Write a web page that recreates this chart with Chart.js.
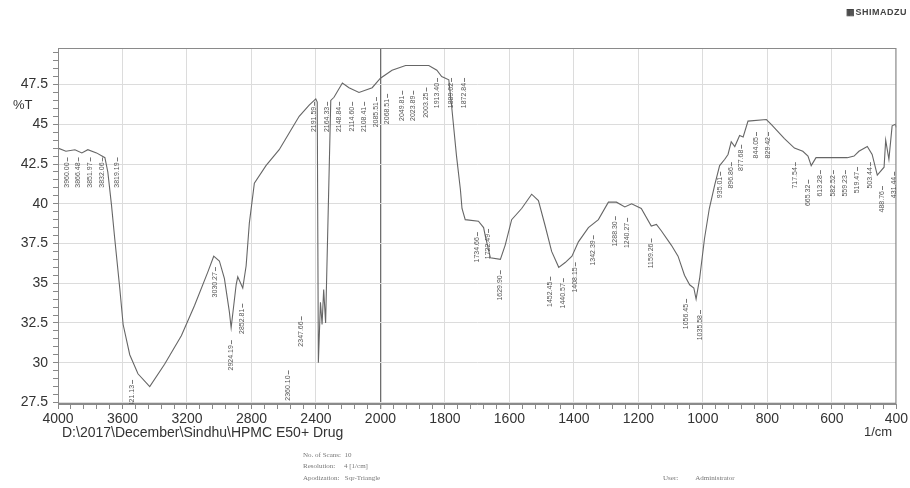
<!DOCTYPE html>
<html>
<head>
<meta charset="utf-8">
<script src="https://cdn.jsdelivr.net/npm/chart.js@4.4.1/dist/chart.umd.min.js"></script>
<style>
  body { margin: 0; background: #fff; font-family: "Liberation Sans", Arial, sans-serif; }
  #wrap { position: relative; width: 910px; height: 488px; overflow: hidden; }
  #ir { position: absolute; left: 0; top: 0; }
  .txt { position: absolute; white-space: pre; color: #333; }
  .info { position: absolute; white-space: pre; color: #777; font-family: "Liberation Serif", serif; font-size: 7px; }
</style>
</head>
<body>
<div id="wrap">
  <canvas id="ir" width="910" height="488"></canvas>
  <div class="txt" style="left:846px;top:7px;font-size:9px;font-weight:bold;letter-spacing:0.5px;color:#444">&#9638;SHIMADZU</div>
  <div class="txt" style="left:62px;top:424px;font-size:14px">D:\2017\December\Sindhu\HPMC E50+ Drug</div>
  <div class="txt" style="left:864px;top:424px;font-size:13px">1/cm</div>
  <div class="info" style="left:303px;top:451px">No. of Scans:  10</div>
  <div class="info" style="left:303px;top:462px">Resolution:     4 [1/cm]</div>
  <div class="info" style="left:303px;top:474px">Apodization:   Sqr-Triangle</div>
  <div class="info" style="left:663px;top:474px">User:          Administrator</div>
</div>
<script>
// spectrum (wavenumber in 1/cm, transmittance in %T)
const spectrumWn = [
  4000, 3951, 3895, 3852, 3815, 3761, 3709, 3691, 3668, 3648,
  3617, 3596, 3555, 3504, 3431, 3339, 3235, 3153, 3071, 3034,
  2999, 2968, 2937, 2926, 2895, 2885, 2854, 2833, 2813, 2782,
  2710, 2628, 2566, 2504, 2442, 2401, 2392, 2385, 2372, 2362,
  2352, 2340, 2308, 2288, 2236, 2195, 2133, 2051, 2000, 1964,
  1922, 1850, 1825, 1810, 1788, 1779, 1764, 1752, 1747, 1737,
  1696, 1680, 1675, 1659, 1628, 1613, 1593, 1562, 1531, 1510,
  1489, 1469, 1447, 1427, 1406, 1386, 1355, 1324, 1293, 1268,
  1242, 1221, 1191, 1160, 1144, 1129, 1098, 1077, 1057, 1041,
  1028, 1021, 1010, 995, 980, 963, 948, 932, 922, 912,
  901, 886, 875, 860, 803, 788, 747, 716, 690, 674,
  664, 649, 634, 552, 531, 516, 490, 475, 459, 438,
  433, 423, 413, 403, 400
];
const spectrumT = [
  43.5, 43.3, 43.4, 43.2, 43.4, 43.2, 42.9, 42.0, 39.9, 37.8,
  34.7, 32.4, 30.5, 29.3, 28.5, 29.9, 31.7, 33.6, 35.7, 36.7,
  36.4, 35.3, 33.2, 32.2, 34.9, 35.4, 34.7, 36.1, 38.8, 41.3,
  42.4, 43.4, 44.45, 45.5, 46.2, 46.6, 46.4, 30.0, 33.8, 32.4,
  34.6, 32.5, 46.5, 46.7, 47.6, 47.3, 47.0, 47.3, 47.9, 48.4,
  48.7, 48.7, 48.4, 48.0, 47.8, 46.1, 43.0, 40.9, 39.7, 39.0,
  38.9, 38.5, 38.0, 36.6, 36.5, 37.4, 39.0, 39.7, 40.6, 40.2,
  38.6, 37.0, 36.0, 36.3, 36.7, 37.6, 38.5, 39.0, 40.1, 40.1,
  39.8, 40.0, 39.7, 38.6, 38.7, 38.3, 37.4, 36.7, 35.5, 34.9,
  34.7, 34.0, 35.3, 37.8, 39.7, 41.2, 42.4, 42.8, 43.1, 43.9,
  43.6, 44.3, 44.2, 45.2, 45.3, 45.0, 44.1, 43.5, 43.3, 43.0,
  42.4, 42.9, 42.9, 42.9, 43.0, 43.3, 43.6, 43.1, 41.8, 42.3,
  44.0, 42.8, 44.9, 45.0, 44.8
];

const xTickLabels = [4000, 3600, 3200, 2800, 2400, 2000, 1800, 1600, 1400, 1200, 1000, 800, 600, 400];
const yTickLabels = [27.5, 30, 32.5, 35, 37.5, 40, 42.5, 45, 47.5];

// peak picks: text, and where the label sits (wavenumber, %T at its top end)
const peakText = [
  '3960.00', '3866.48', '3851.97', '3832.06', '3819.19', '3421.13',
  '3030.27', '2924.19', '2852.81', '2347.66', '2360.10',
  '2191.59', '2164.33', '2148.84', '2114.60', '2108.41', '2085.51', '2068.51',
  '2049.81', '2023.89', '2003.25', '1913.40', '1889.02', '1872.84',
  '1734.66', '1722.49', '1629.90', '1452.45', '1440.57', '1408.15', '1342.39',
  '1288.30', '1240.27', '1159.26', '1056.45', '1035.58',
  '935.01', '896.86', '877.68', '844.05', '829.42', '717.54', '665.32',
  '613.28', '582.52', '559.23', '519.47', '503.44', '488.76', '431.44'
];
const peakWn = [
  3946, 3876, 3802, 3728, 3635, 3543,
  3029, 2924, 2856, 2492, 2572,
  2411, 2330, 2257, 2176, 2102, 2028, 1980,
  1934, 1900, 1860, 1826, 1782, 1742,
  1702, 1665, 1628, 1473, 1433, 1396, 1340,
  1272, 1235, 1161, 1053, 1009,
  947, 913, 882, 835, 798, 715, 675,
  638, 597, 560, 523, 483, 443, 406
];
const peakTop = [
  42.6, 42.6, 42.6, 42.6, 42.6, 28.6,
  35.7, 31.1, 33.4, 32.6, 29.2,
  46.1, 46.1, 46.1, 46.1, 46.1, 46.4, 46.6,
  46.8, 46.8, 47.0, 47.6, 47.6, 47.6,
  37.9, 38.1, 35.5, 35.1, 35.0, 36.0, 37.7,
  38.9, 38.8, 37.5, 33.7, 33.0,
  41.7, 42.3, 43.4, 44.2, 44.2, 42.3, 41.2,
  41.8, 41.8, 41.8, 42.0, 42.3, 40.8, 41.7
];

// the instrument plots 4000-2000 at half the scale of 2000-400
function toAxis(wn) {
  return wn >= 2000 ? (4000 - wn) / 400 : 5 + (2000 - wn) / 200;
}

const points = spectrumWn.map((w, i) => ({ x: toAxis(w), y: spectrumT[i] }));

const frameAndText = {
  id: 'frameAndText',
  afterDatasetsDraw(chart) {
    const { ctx, chartArea: a, scales } = chart;
    ctx.save();
    ctx.strokeStyle = '#8a8a8a';
    ctx.lineWidth = 1;
    ctx.strokeRect(a.left + 0.5, a.top + 0.5, a.right - a.left - 1, a.bottom - a.top - 1);

    // peak labels
    ctx.beginPath();
    ctx.rect(a.left, a.top, a.right - a.left, a.bottom - a.top);
    ctx.clip();
    ctx.fillStyle = '#555';
    ctx.strokeStyle = '#777';
    ctx.font = '7px "Liberation Sans", Arial, sans-serif';
    peakText.forEach((t, i) => {
      const x = Math.round(scales.x.getPixelForValue(toAxis(peakWn[i]))) + 0.5;
      const y = scales.y.getPixelForValue(peakTop[i]);
      ctx.beginPath();
      ctx.moveTo(x, y - 1);
      ctx.lineTo(x, y - 5);
      ctx.stroke();
      ctx.save();
      ctx.translate(x, y);
      ctx.rotate(-Math.PI / 2);
      ctx.textAlign = 'right';
      ctx.textBaseline = 'middle';
      ctx.fillText(t, 0, 0);
      ctx.restore();
    });
    ctx.restore();

    ctx.save();
    ctx.fillStyle = '#333';
    ctx.font = '13px "Liberation Sans", Arial, sans-serif';
    ctx.textBaseline = 'middle';
    ctx.fillText('%T', 13, scales.y.getPixelForValue(46.2));
    ctx.restore();
  }
};

new Chart(document.getElementById('ir'), {
  type: 'line',
  data: {
    datasets: [{
      data: points,
      borderColor: '#666',
      borderWidth: 1.1,
      pointRadius: 0,
      tension: 0,
      fill: false
    }]
  },
  options: {
    responsive: false,
    animation: false,
    devicePixelRatio: 1,
    layout: { padding: { left: 0, right: 11, top: 48, bottom: 54 } },
    plugins: { legend: { display: false }, tooltip: { enabled: false } },
    scales: {
      x: {
        type: 'linear',
        min: 0,
        max: xTickLabels.length - 1,
        afterBuildTicks: s => {
          s.ticks = [];
          for (let k = 0; k <= (xTickLabels.length - 1) * 5; k++) s.ticks.push({ value: k / 5 });
        },
        afterFit: s => { s.height = 30; },
        ticks: {
          autoSkip: false,
          maxRotation: 0,
          padding: 2,
          color: '#333',
          font: { family: '"Liberation Sans", Arial, sans-serif', size: 14 },
          callback: (v, i) => i % 5 === 0 ? String(xTickLabels[i / 5]) : ''
        },
        grid: {
          color: c => {
            const i = c.index;
            if (i % 5 !== 0) return 'rgba(0,0,0,0)';
            return i === 25 ? '#6e6e6e' : '#dcdcdc';
          },
          lineWidth: c => (c.index === 25 ? 1.3 : 1),
          tickColor: '#888',
          tickLength: 5
        },
        border: { color: '#8a8a8a' }
      },
      y: {
        type: 'linear',
        min: 27.4,
        max: 49.8,
        afterBuildTicks: s => {
          s.ticks = [];
          for (let k = 0; k <= 44; k++) s.ticks.push({ value: 27.5 + k * 0.5 });
        },
        afterFit: s => { s.width = 58; },
        ticks: {
          autoSkip: false,
          padding: 5,
          color: '#333',
          font: { family: '"Liberation Sans", Arial, sans-serif', size: 14 },
          callback: (v, i) => (i % 5 === 0 && yTickLabels[i / 5] !== undefined) ? String(yTickLabels[i / 5]) : ''
        },
        grid: {
          color: c => (c.index % 5 === 0 && c.index <= 40 ? '#dcdcdc' : 'rgba(0,0,0,0)'),
          tickColor: '#888',
          tickLength: 5
        },
        border: { color: '#8a8a8a' }
      }
    }
  },
  plugins: [frameAndText]
});
</script>
</body>
</html>
